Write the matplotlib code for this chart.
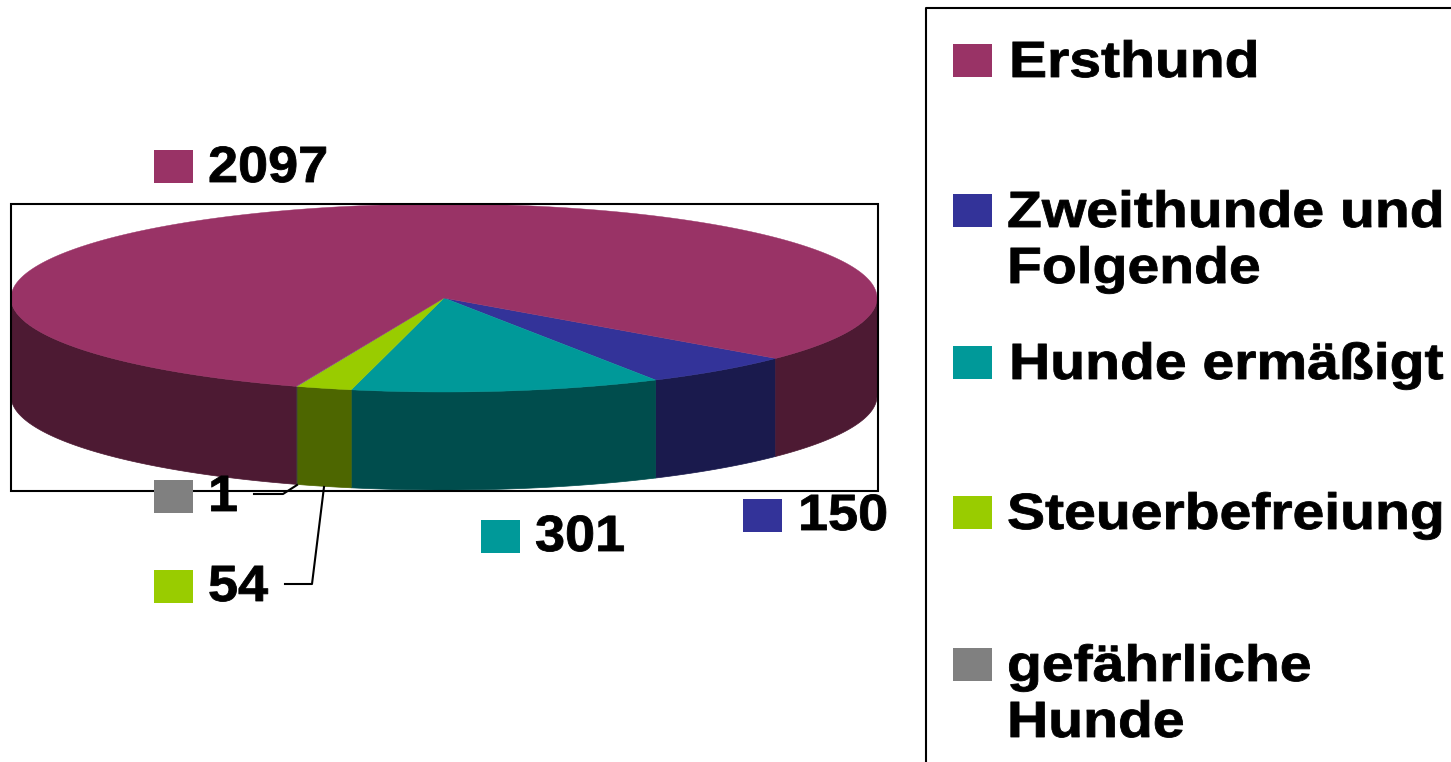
import numpy as np
import matplotlib
matplotlib.use('Agg')
import matplotlib.pyplot as plt
from matplotlib.patches import Rectangle
from matplotlib.patheffects import AbstractPathEffect
from matplotlib.transforms import Affine2D

plt.rcParams['font.family'] = ['Liberation Sans', 'DejaVu Sans']

# clockwise from the right edge of Ersthund
categories = ['Zweithunde und\nFolgende', 'Hunde ermäßigt', 'Steuerbefreiung', 'gefährliche\nHunde', 'Ersthund']
values = [150, 301, 54, 1, 2097]
top_colors = ['#333399', '#009999', '#99CC00', '#808080', '#993366']
side_colors = ['#1A1A4D', '#004D4D', '#4D6600', '#404040', '#4D1A33']

cx, cy = 444, 298
rx, ry = 433, 94
depth = 98
start = -40


# the original font is a bit wider and heavier than Liberation Sans Bold
class Stretch(AbstractPathEffect):
    def __init__(self, sx):
        self.sx = sx

    def draw_path(self, renderer, gc, tpath, affine, rgbFace=None):
        x0 = affine.get_matrix()[0, 2]
        a = affine + Affine2D().translate(-x0, 0).scale(self.sx, 1).translate(x0, 0)
        gc0 = renderer.new_gc()
        gc0.copy_properties(gc)
        gc0.set_linewidth(0.6)
        gc0.set_foreground('black')
        renderer.draw_path(gc0, tpath, a, rgbFace)
        gc0.restore()


def arc(a0, a1):
    t = np.radians(np.linspace(a0, a1, max(int(abs(a1 - a0) * 3), 2)))
    return cx + rx * np.cos(t), cy - ry * np.sin(t)


def label(x, y, s, sx):
    ax.text(x, y, s, fontsize=36.7, fontweight='bold', color='black', ha='left', va='baseline',
            path_effects=[Stretch(sx)])


fig = plt.figure(figsize=(14.51, 7.62), dpi=100)
ax = fig.add_axes([0, 0, 1, 1])
ax.set_xlim(0, 1451)
ax.set_ylim(762, 0)
ax.axis('off')

angles = start - np.cumsum([0] + values) / sum(values) * 360

# side walls, only the front half of the disc shows
for i in range(len(values)):
    a1, a0 = angles[i], angles[i + 1]
    for lo, hi in [(-180, 0), (-540, -360)]:
        s, e = max(a0, lo), min(a1, hi)
        if e <= s:
            continue
        x, y = arc(s, e)
        ax.fill(np.r_[x, x[::-1]], np.r_[y, y[::-1] + depth], color=side_colors[i], lw=0.5, zorder=2)

# top of the disc
for i in range(len(values)):
    x, y = arc(angles[i + 1], angles[i])
    ax.fill(np.r_[cx, x], np.r_[cy, y], color=top_colors[i], lw=0.3, zorder=3)

# plot area frame
ax.add_patch(Rectangle((11, 204), 867, 287, fill=False, ec='black', lw=1.5, zorder=4))

# value labels
val_x = [798, 535, 208, 208, 208]
val_y = [530, 551, 601, 511, 182]
sw_x = [743, 481, 154, 154, 154]
sw_y = [499, 520, 570, 480, 150]
for i in range(len(values)):
    ax.add_patch(Rectangle((sw_x[i], sw_y[i]), 39, 33, fc=top_colors[i], ec='none', zorder=5))
    label(val_x[i], val_y[i], str(values[i]), 1.06)

# leader lines
ax.plot([254, 283, 297], [494, 494, 485], color='black', lw=1.5, zorder=5)
ax.plot([285, 312, 324], [584, 584, 487], color='black', lw=1.5, zorder=5)

# legend box runs off the picture
ax.plot([1460, 925.5, 925.5], [8, 8, 770], color='black', lw=1.5, zorder=4)
leg_order = [4, 0, 1, 2, 3]
leg_y = [77, 227, 379, 529, 681]
leg_x = [1009, 1007, 1009, 1007, 1007]
for k, i in enumerate(leg_order):
    ax.add_patch(Rectangle((953, leg_y[k] - 33), 39, 33, fc=top_colors[i], ec='none', zorder=5))
    for j, line in enumerate(categories[i].split('\n')):
        label(leg_x[k], leg_y[k] + j * 56, line, 1.12)

fig.savefig('out.png', dpi=100)
